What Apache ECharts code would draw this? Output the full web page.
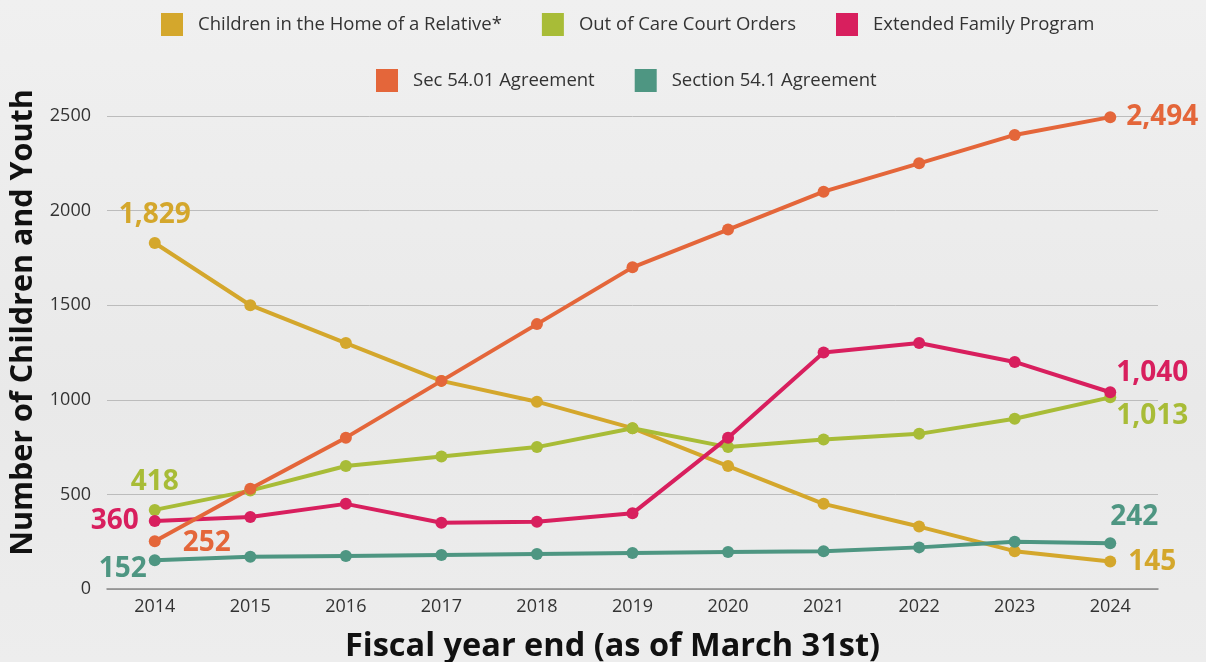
<!DOCTYPE html>
<html><head><meta charset="utf-8">
<script src="https://cdn.jsdelivr.net/npm/echarts@6/dist/echarts.min.js"></script>
<style>html,body{margin:0;padding:0;background:#ebebeb;}#c{width:1206px;height:662px;}</style>
</head><body><div id="c"></div>
<script>
const years = ['2014','2015','2016','2017','2018','2019','2020','2021','2022','2023','2024'];
const seriesNames = ['Children in the Home of a Relative*','Out of Care Court Orders','Extended Family Program','Sec 54.01 Agreement','Section 54.1 Agreement'];
const relativeHome = [1829,1500,1300,1100,990,850,650,450,330,200,145];
const outOfCare = [418,520,650,700,750,850,750,790,820,900,1013];
const extendedFamily = [360,380,450,350,355,400,800,1250,1300,1200,1040];
const sec5401 = [252,530,800,1100,1400,1700,1900,2100,2250,2400,2494];
const sec541 = [152,170,175,180,185,190,195,200,220,250,242];
const yTicks = [0,500,1000,1500,2000,2500];

const colors = ['#D4A72C','#A8BC37','#D81F5E','#E4663A','#4E9682'];
const allValues = [relativeHome,outOfCare,extendedFamily,sec5401,sec541];
// end-label placement (style only)
const endLabels = [
  [{position:'top',distance:8},{position:'right',distance:12,offset:[0,0]}],
  [{position:'top',distance:8},{position:'right',distance:0,offset:[0,19]}],
  [{position:'left',distance:10},{position:'right',distance:0,offset:[0,-19]}],
  [{position:'right',distance:22,offset:[0,2]},{position:'right',distance:10}],
  [{position:'left',distance:2,offset:[0,9]},{position:'top',distance:6,offset:[24,0]}]
];
const fmt = v => Number(v).toLocaleString('en-US');
const series = allValues.map((vals,s)=>({
  name: seriesNames[s], type:'line', color: colors[s],
  symbol:'circle', symbolSize:12, lineStyle:{width:4}, itemStyle:{color:colors[s]},
  emphasis:{disabled:true},
  data: vals.map((v,i)=>{
    const last = vals.length-1;
    if(i===0||i===last){
      const p = endLabels[s][i===0?0:1];
      return {value:v,label:Object.assign({show:true,formatter:p=>fmt(p.value),color:colors[s],fontSize:28,fontWeight:'bold',fontFamily:'Open Sans'},p)};
    }
    return v;
  })
}));
const legendStyle = {icon:'rect',itemWidth:22,itemHeight:23,itemGap:40,textStyle:{fontSize:18.5,color:'#333',fontFamily:'Open Sans',padding:[0,0,0,10]}};
const chart = echarts.init(document.getElementById('c'),null,{renderer:'canvas'});
chart.setOption({
  backgroundColor:{type:'linear',x:0,y:0,x2:0,y2:1,colorStops:[{offset:0,color:'#f0f0f0'},{offset:0.6,color:'#e9e9e9'},{offset:1,color:'#ededed'}]},
  animation:false,
  textStyle:{fontFamily:'Open Sans'},
  legend:[
    Object.assign({left:156,top:8,data:seriesNames.slice(0,3)},legendStyle),
    Object.assign({left:371,top:64,data:seriesNames.slice(3)},legendStyle)
  ],
  grid:{left:107,right:48,top:116,bottom:73,containLabel:false,outerBoundsMode:'none'},
  xAxis:{type:'category',data:years,boundaryGap:true,
    axisLine:{lineStyle:{color:'#888',width:1.5}},axisTick:{show:false},
    axisLabel:{color:'#333',fontSize:18,margin:9},
    name:'Fiscal year end (as of March 31st)',nameLocation:'middle',nameGap:41,
    nameTextStyle:{fontSize:32.5,fontWeight:'bold',color:'#111',padding:[0,40,0,0]}},
  yAxis:{type:'value',min:yTicks[0],max:yTicks[yTicks.length-1],interval:500,
    axisLine:{show:false},axisTick:{show:false},
    splitLine:{lineStyle:{color:'#bcbcbc',width:1}},
    axisLabel:{color:'#333',fontSize:18,margin:16,formatter:v=>String(v)},
    name:'Number of Children and Youth',nameLocation:'middle',nameGap:62,
    nameTextStyle:{fontSize:30.5,fontWeight:'bold',color:'#111',padding:[0,0,0,60]}},
  series: series
});
</script></body></html>
